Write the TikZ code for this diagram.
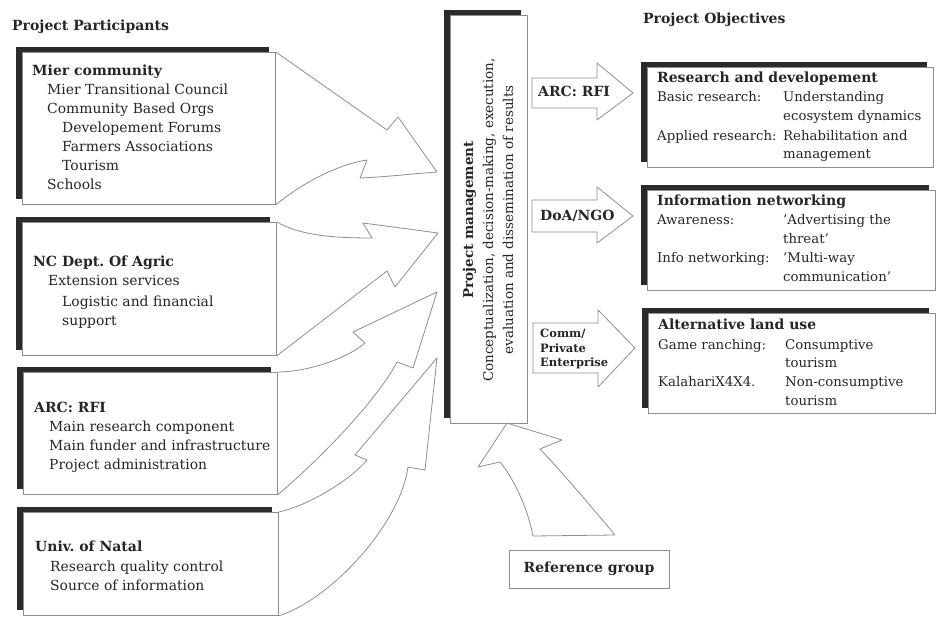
\documentclass[tikz,border=0pt]{standalone}
\usepackage{fontspec}
\setmainfont{DejaVu Serif}
\usetikzlibrary{shadows}
\definecolor{ink}{HTML}{262626}
\definecolor{barc}{HTML}{2b2b2b}
\definecolor{edgec}{HTML}{8e8e8e}
\frenchspacing
\begin{document}
\begin{tikzpicture}[x=1pt,y=-1pt,
  pbox/.style={draw=edgec, line width=0.8pt, fill=white, inner sep=0pt, anchor=north west,
    general shadow={fill=barc, shadow xshift=-6.5pt, shadow yshift=5.5pt}},
  txt/.style={anchor=base west, inner sep=0pt, text=ink, font=\fontsize{13.9}{16}\selectfont},
  txtr/.style={txt, font=\fontsize{13.3}{16}\selectfont},
  ttl/.style={txt, font=\fontsize{14}{16}\selectfont\bfseries},
  sml/.style={txt, font=\fontsize{11.5}{13}\selectfont\bfseries},
  blk/.style={draw=edgec, line width=0.8pt, line join=round}]
\useasboundingbox (0,0) rectangle (941,617);

% headings
\node[ttl] (hp) at (12,31) {Project Participants};
\node[ttl] (ho) at (643,24) {Project Objectives};

% left boxes
\node[pbox, minimum width=253pt, minimum height=152pt] (b1) at (22,52) {};
\node[pbox, minimum width=254pt, minimum height=133pt] (b2) at (22,222) {};
\node[pbox, minimum width=254pt, minimum height=122pt] (b3) at (23,372) {};
\node[pbox, minimum width=255pt, minimum height=103pt] (b4) at (23,512) {};

\node[ttl] (t11) at (32,76) {Mier community};
\node[txt] (t12) at (47,95) {Mier Transitional Council};
\node[txt] (t13) at (47,114) {Community Based Orgs};
\node[txt] (t14) at (62,133) {Developement Forums};
\node[txt] (t15) at (62,152) {Farmers Associations};
\node[txt] (t16) at (62,171) {Tourism};
\node[txt] (t17) at (47,190) {Schools};

\node[ttl] (t21) at (33,267) {NC Dept. Of Agric};
\node[txt] (t22) at (48,286) {Extension services};
\node[txt] (t23) at (62,306) {Logistic and financial};
\node[txt] (t24) at (62,325) {support};

\node[ttl] (t31) at (34,412) {ARC: RFI};
\node[txt] (t32) at (49,431) {Main research component};
\node[txt] (t33) at (49,450) {Main funder and infrastructure};
\node[txt] (t34) at (49,469) {Project administration};

\node[ttl] (t41) at (35,551) {Univ. of Natal};
\node[txt] (t42) at (50,571) {Research quality control};
\node[txt] (t43) at (50,590) {Source of information};

% centre box
\node[pbox, minimum width=77pt, minimum height=408pt] (pm) at (450,15) {};
\node[rotate=90, align=center, inner sep=0pt, text=ink, font=\fontsize{13.5}{20}\selectfont] (pmt) at (488,220)
  {\textbf{Project management}\\Conceptualization, decision-making, execution,\\evaluation and dissemination of results};

% right boxes
\node[pbox, minimum width=286pt, minimum height=100pt] (r1) at (647,67) {};
\node[pbox, minimum width=288pt, minimum height=100pt] (r2) at (647,190) {};
\node[pbox, minimum width=287pt, minimum height=100pt] (r3) at (648,313) {};

\node[ttl] (u11) at (657,83) {Research and developement};
\node[txtr] (u12) at (657,102) {Basic research:};
\node[txtr] (u13) at (783,102) {Understanding};
\node[txtr] (u14) at (783,121) {ecosystem dynamics};
\node[txtr] (u15) at (657,141) {Applied research:};
\node[txtr] (u16) at (783,141) {Rehabilitation and};
\node[txtr] (u17) at (783,159) {management};

\node[ttl] (u21) at (657,206) {Information networking};
\node[txtr] (u22) at (657,225) {Awareness:};
\node[txtr] (u23) at (783,225) {'Advertising the};
\node[txtr] (u24) at (783,244) {threat'};
\node[txtr] (u25) at (657,263) {Info networking:};
\node[txtr] (u26) at (783,263) {'Multi-way};
\node[txtr] (u27) at (783,282) {communication'};

\node[ttl] (u31) at (658,329) {Alternative land use};
\node[txtr] (u32) at (658,349) {Game ranching:};
\node[txtr] (u33) at (785,349) {Consumptive};
\node[txtr] (u34) at (785,367) {tourism};
\node[txtr] (u35) at (658,386) {KalahariX4X4.};
\node[txtr] (u36) at (785,386) {Non-consumptive};
\node[txtr] (u37) at (785,405) {tourism};

% right block arrows
\draw[blk] (532,78) -- (597,78) -- (597,63) -- (633,93) -- (597,120) -- (597,108) -- (532,108) -- cycle;
\draw[blk] (532,200) -- (597,200) -- (597,187) -- (633,216) -- (597,243) -- (597,232) -- (532,232) -- cycle;
\draw[blk] (533,323) -- (598,323) -- (598,310) -- (635,348) -- (598,387) -- (598,373) -- (533,373) -- cycle;
\node[ttl] (a1) at (538,97) {ARC: RFI};
\node[ttl] (a2) at (540,221) {DoA/NGO};
\node[sml] (a3a) at (540,337) {Comm/};
\node[sml] (a3b) at (540,352) {Private};
\node[sml] (a3c) at (540,366) {Enterprise};

% left curved arrows
\draw[blk] (b1.north east) -- (387,130) -- (398,117) -- (437,172)
  .. controls (410,174) and (385,177) .. (360,178) -- (367,160)
  .. controls (335,165) and (300,185) .. (b1.south east);
\draw[blk] (b2.north east) .. controls (300,235) and (330,238) .. (372,238)
  -- (363,223) -- (438,233) -- (395,287) -- (387,271) -- (b2.south east);
\draw[blk] (b3.north east) .. controls (305,372) and (345,360) .. (365,343)
  -- (353,332) -- (437,292) -- (413,368) -- (397,362)
  .. controls (380,395) and (330,450) .. (b3.south east);
\draw[blk] (b4.north east) .. controls (310,505) and (350,480) .. (367,460)
  -- (355,455) -- (437,358) -- (425,470) -- (408,467)
  .. controls (400,525) and (330,600) .. (b4.south east);

% reference group
\node[draw=edgec, line width=0.8pt, minimum width=160pt, minimum height=38pt, inner sep=0pt,
  text=ink, font=\fontsize{14}{16}\selectfont\bfseries] (rg) at (589,569) {Reference group};
\draw[blk] (533,536) .. controls (528,510) and (515,480) .. (500,462) -- (478,467) -- (507,423)
  -- (562,440) -- (540,449) .. controls (560,470) and (590,505) .. (615,535) -- cycle;
\end{tikzpicture}
\end{document}
